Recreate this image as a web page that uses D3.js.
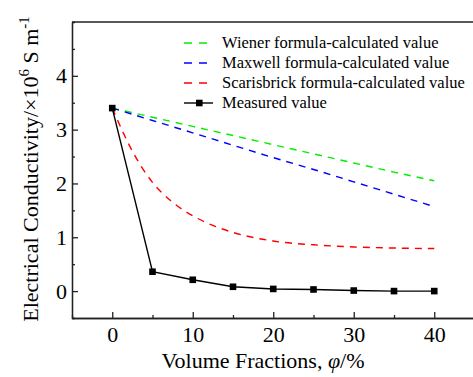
<!DOCTYPE html>
<meta charset="utf-8">
<style>
body { margin: 0; background: #fff; }
svg text { font-family: 'Liberation Serif', 'Times New Roman', serif; fill: #000; }
.axis path, .axis line { stroke: #222; stroke-width: 1.3px; }
.axis text { font-size: 22px; }
.line { fill: none; stroke-width: 1.4px; }
</style>
<body>
<script src="https://cdn.jsdelivr.net/npm/d3@7"></script>
<script>

// data
var fractions = [0, 5, 10, 15, 20, 25, 30, 35, 40];
var wiener = [3.40, 3.23, 3.06, 2.89, 2.72, 2.55, 2.38, 2.21, 2.05];
var maxwell = [3.40, 3.17, 2.94, 2.71, 2.48, 2.26, 2.03, 1.80, 1.57];
var scarisFractions = [0, 2.5, 5, 7.5, 10, 12.5, 15, 20, 25, 30, 35, 40];
var scarisbrick = [3.40, 2.60, 2.02, 1.65, 1.40, 1.22, 1.09, 0.93, 0.86, 0.82, 0.80, 0.79];
var measured = [3.40, 0.36, 0.21, 0.08, 0.04, 0.03, 0.01, 0.00, 0.00];

var xTicks = [0, 10, 20, 30, 40];
var yTicks = [0, 1, 2, 3, 4];
var legendNames = ["Wiener formula-calculated value", "Maxwell formula-calculated value",
                   "Scarisbrick formula-calculated value", "Measured value"];
var colors = ["#00ee00", "#0000ff", "#ff0000", "#000000"];

var W = 473, H = 377;
var margin = {top: 22, left: 72, bottom: 59};

var svg = d3.select("body").append("svg")
    .attr("width", W)
    .attr("height", H);

// set the ranges
var x = d3.scaleLinear().domain([-5, 45]).range([margin.left, margin.left + 50 * 8.05]);
var y = d3.scaleLinear().domain([-0.5, 5]).range([H - margin.bottom, margin.top]);

// frame
svg.append("line")
    .attr("x1", margin.left).attr("x2", W + 5)
    .attr("y1", margin.top).attr("y2", margin.top)
    .attr("stroke", "#222").attr("stroke-width", 1.3);

// minor ticks
svg.append("g")
    .attr("class", "axis")
    .attr("transform", "translate(0," + y(-0.5) + ")")
    .call(d3.axisBottom(x).tickValues([5, 15, 25, 35]).tickSize(-3).tickFormat(""));
svg.append("g")
    .attr("class", "axis")
    .attr("transform", "translate(" + margin.left + ",0)")
    .call(d3.axisLeft(y).tickValues([0.5, 1.5, 2.5, 3.5, 4.5]).tickSize(-3).tickFormat(""));

// x axis
svg.append("g")
    .attr("class", "axis")
    .attr("transform", "translate(0," + y(-0.5) + ")")
    .call(d3.axisBottom(x).tickValues(xTicks).tickSize(-6).tickPadding(8).tickSizeOuter(0));

// y axis
svg.append("g")
    .attr("class", "axis")
    .attr("transform", "translate(" + margin.left + ",0)")
    .call(d3.axisLeft(y).tickValues(yTicks).tickFormat(d3.format("d"))
        .tickSize(-6).tickPadding(5).tickSizeOuter(0));

// axis titles
var xt = svg.append("text")
    .attr("x", 263)
    .attr("y", 368)
    .attr("text-anchor", "middle")
    .style("font-size", "22px");
xt.append("tspan").text("Volume Fractions, ");
xt.append("tspan").style("font-style", "italic").text("φ");
xt.append("tspan").text("/%");

var yt = svg.append("text")
    .attr("transform", "translate(38,169) rotate(-90)")
    .attr("text-anchor", "middle")
    .style("font-size", "22px");
yt.append("tspan").text("Electrical Conductivity/×10");
yt.append("tspan").attr("dy", -9).style("font-size", "15px").text("6");
yt.append("tspan").attr("dy", 9).text(" S m");
yt.append("tspan").attr("dy", -9).style("font-size", "15px").text("-1");

// lines
var line = d3.line()
    .x(function(d) { return x(d[0]); })
    .y(function(d) { return y(d[1]); });
var smooth = d3.line()
    .curve(d3.curveMonotoneX)
    .x(function(d) { return x(d[0]); })
    .y(function(d) { return y(d[1]); });

svg.append("path")
    .attr("class", "line")
    .attr("stroke", colors[0])
    .attr("stroke-dasharray", "7,6")
    .attr("d", line(d3.zip(fractions, wiener)));

svg.append("path")
    .attr("class", "line")
    .attr("stroke", colors[1])
    .attr("stroke-dasharray", "7,6")
    .attr("d", smooth(d3.zip(fractions, maxwell)));

svg.append("path")
    .attr("class", "line")
    .attr("stroke", colors[2])
    .attr("stroke-dasharray", "7,6")
    .attr("d", smooth(d3.zip(scarisFractions, scarisbrick)));

svg.append("path")
    .attr("class", "line")
    .attr("stroke", colors[3])
    .attr("stroke-width", 1.3)
    .attr("d", line(d3.zip(fractions, measured)));

svg.selectAll(".pt")
    .data(d3.zip(fractions, measured))
  .enter().append("rect")
    .attr("class", "pt")
    .attr("x", function(d) { return x(d[0]) - 3.3; })
    .attr("y", function(d) { return y(d[1]) - 3.3; })
    .attr("width", 6.6)
    .attr("height", 6.6)
    .attr("fill", "#000");

// legend
var legend = svg.selectAll(".legend")
    .data(legendNames)
  .enter().append("g")
    .attr("class", "legend")
    .attr("transform", function(d, i) { return "translate(184," + (43 + i * 20) + ")"; });

legend.append("line")
    .attr("x1", 0)
    .attr("x2", function(d, i) { return i == 3 ? 29 : 23; })
    .attr("stroke", function(d, i) { return colors[i]; })
    .attr("stroke-width", 1.4)
    .attr("stroke-dasharray", function(d, i) { return i == 3 ? null : "8,7"; });

legend.filter(function(d, i) { return i == 3; })
  .append("rect")
    .attr("x", 12).attr("y", -3.3)
    .attr("width", 6.6).attr("height", 6.6)
    .attr("fill", "#000");

legend.append("text")
    .attr("x", 38)
    .attr("dy", "0.33em")
    .style("font-size", "16.5px")
    .text(function(d) { return d; });

</script>
</body>
